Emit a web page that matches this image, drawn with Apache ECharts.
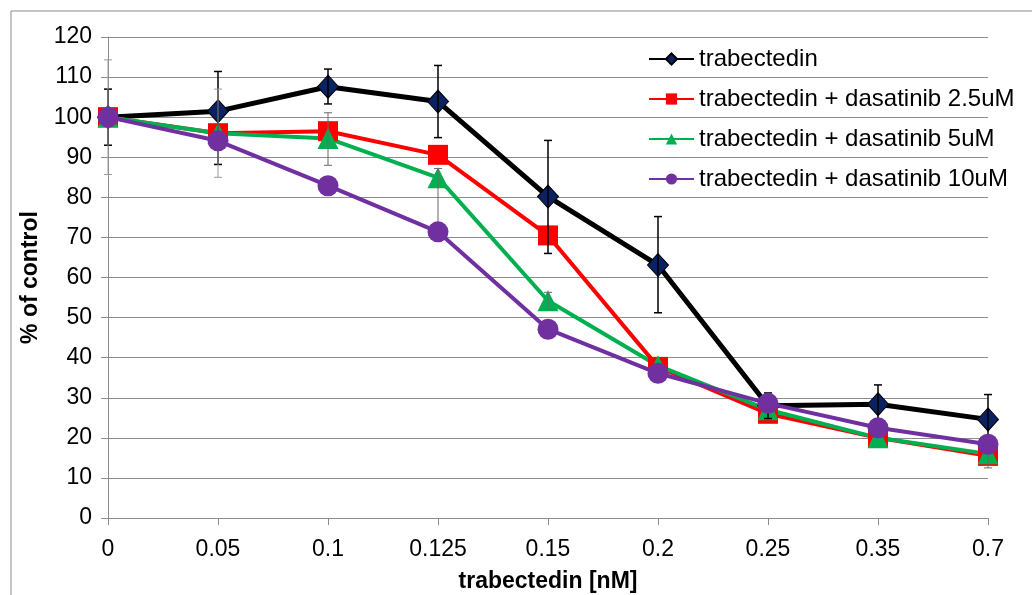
<!DOCTYPE html>
<html>
<head>
<meta charset="utf-8">
<script src="https://cdn.jsdelivr.net/npm/echarts@6/dist/echarts.min.js"></script>
<style>
  html, body { margin: 0; padding: 0; background: #fff; }
  #chart { width: 1032px; height: 595px; }
</style>
</head>
<body>
<div id="chart"></div>
<script>
// doses (x categories)
const categories = ['0', '0.05', '0.1', '0.125', '0.15', '0.2', '0.25', '0.35', '0.7'];
const yTicks = [0, 10, 20, 30, 40, 50, 60, 70, 80, 90, 100, 110, 120];

// % of control
const trabectedin = [100, 101.5, 107.6, 103.9, 80.2, 63.1, 28, 28.4, 24.6];
const dasatinib25 = [100, 96, 96.5, 90.6, 70.5, 37.7, 26, 20, 15.5];
const dasatinib5 = [100, 96, 94.7, 84.9, 54.2, 38, 27, 20, 16];
const dasatinib10 = [100, 94.1, 82.9, 71.4, 47.1, 36.1, 28.6, 22.5, 18.4];

// error bar ends (low / high), null = none drawn
const trabLow = [93, 88.2, 103.3, 94.9, 66, 51.2, 24.8, 23.6, 18.4];
const trabHigh = [107, 111.4, 112, 112.9, 94.2, 75.2, 31.2, 33.2, 30.8];
const d25Low = [85.7, 85, null, null, null, null, null, null, null];
const d25High = [114.3, 107, null, null, null, null, null, null, null];
const d5Low = [null, null, 88, 72, 52, null, null, null, 12.5];
const d5High = [null, null, 101.1, 87.2, 56.3, null, null, null, 19];

const FONT = 'Liberation Sans, Arial, sans-serif';

const errData = (low, high) =>
  categories.map((c, i) => [i, low[i], high[i]]).filter(d => d[1] != null);

const errRender = (color, width) => (params, api) => {
  const lo = api.coord([api.value(0), api.value(1)]);
  const hi = api.coord([api.value(0), api.value(2)]);
  const half = 4;
  const style = { stroke: color, lineWidth: width };
  return {
    type: 'group',
    children: [
      { type: 'line', shape: { x1: hi[0], y1: hi[1], x2: lo[0], y2: lo[1] }, style },
      { type: 'line', shape: { x1: hi[0] - half, y1: hi[1], x2: hi[0] + half, y2: hi[1] }, style },
      { type: 'line', shape: { x1: lo[0] - half, y1: lo[1], x2: lo[0] + half, y2: lo[1] }, style }
    ]
  };
};

const chart = echarts.init(document.getElementById('chart'));

chart.setOption({
  animation: false,
  textStyle: { fontFamily: FONT },
  graphic: [{
    type: 'rect',
    shape: { x: 11, y: 11, width: 1050, height: 620 },
    style: { fill: 'none', stroke: '#8c8c8c', lineWidth: 1 },
    silent: true
  }],
  grid: { left: 108, right: 44, top: 37, bottom: 77, outerBoundsMode: 'none', containLabel: false },
  legend: {
    orient: 'vertical',
    left: 643,
    top: 42,
    itemWidth: 45,
    itemHeight: 14,
    itemGap: 16,
    textStyle: { fontSize: 24, lineHeight: 24, color: '#000', fontFamily: FONT },
    data: ['trabectedin', 'trabectedin + dasatinib 2.5uM', 'trabectedin + dasatinib 5uM', 'trabectedin + dasatinib 10uM']
  },
  xAxis: {
    type: 'category',
    data: categories,
    boundaryGap: false,
    name: 'trabectedin [nM]',
    nameLocation: 'middle',
    nameGap: 52,
    nameTextStyle: { fontSize: 23, fontWeight: 'bold', color: '#000', fontFamily: FONT },
    axisLine: { lineStyle: { color: '#8c8c8c', width: 1 } },
    axisTick: { alignWithLabel: true, length: 7, lineStyle: { color: '#8c8c8c' } },
    axisLabel: { fontSize: 23, color: '#000', margin: 20, fontFamily: FONT },
    splitLine: { show: false }
  },
  yAxis: {
    type: 'value',
    min: yTicks[0],
    max: yTicks[yTicks.length - 1],
    interval: 10,
    name: '% of control',
    nameLocation: 'middle',
    nameGap: 66,
    nameTextStyle: { fontSize: 23, fontWeight: 'bold', color: '#000', fontFamily: FONT },
    axisLine: { show: true, lineStyle: { color: '#8c8c8c', width: 1 } },
    axisTick: { show: true, length: 7, lineStyle: { color: '#8c8c8c' } },
    axisLabel: { fontSize: 23, color: '#000', margin: 16, fontFamily: FONT },
    splitLine: { lineStyle: { color: '#8c8c8c', width: 1 } }
  },
  series: [
    {
      name: 'trabectedin',
      type: 'line',
      data: trabectedin,
      symbol: 'diamond',
      symbolSize: [21, 23],
      z: 2,
      lineStyle: { color: '#000', width: 5 },
      itemStyle: { color: '#0b2262', borderColor: '#000', borderWidth: 1 }
    },
    {
      name: 'trabectedin + dasatinib 2.5uM',
      type: 'line',
      data: dasatinib25,
      symbol: 'rect',
      symbolSize: 20,
      z: 2,
      lineStyle: { color: '#ff0000', width: 4 },
      itemStyle: { color: '#ff0000' }
    },
    {
      name: 'trabectedin + dasatinib 5uM',
      type: 'line',
      data: dasatinib5,
      symbol: 'triangle',
      symbolSize: 21,
      z: 2,
      lineStyle: { color: '#00b050', width: 4 },
      itemStyle: { color: '#00b050' }
    },
    {
      name: 'trab err',
      type: 'custom',
      data: errData(trabLow, trabHigh),
      encode: { x: 0, y: [1, 2] },
      renderItem: errRender('#000', 1.5),
      z: 3,
      silent: true
    },
    {
      name: 'd25 err',
      type: 'custom',
      data: errData(d25Low, d25High),
      encode: { x: 0, y: [1, 2] },
      renderItem: errRender('#9a9a9a', 1),
      z: 3,
      silent: true
    },
    {
      name: 'd5 err',
      type: 'custom',
      data: errData(d5Low, d5High),
      encode: { x: 0, y: [1, 2] },
      renderItem: errRender('#6a6a6a', 1),
      z: 3,
      silent: true
    },
    {
      name: 'trabectedin + dasatinib 10uM',
      type: 'line',
      data: dasatinib10,
      symbol: 'circle',
      symbolSize: 21,
      z: 4,
      lineStyle: { color: '#7030a0', width: 4 },
      itemStyle: { color: '#7030a0' }
    }
  ]
});
</script>
</body>
</html>
